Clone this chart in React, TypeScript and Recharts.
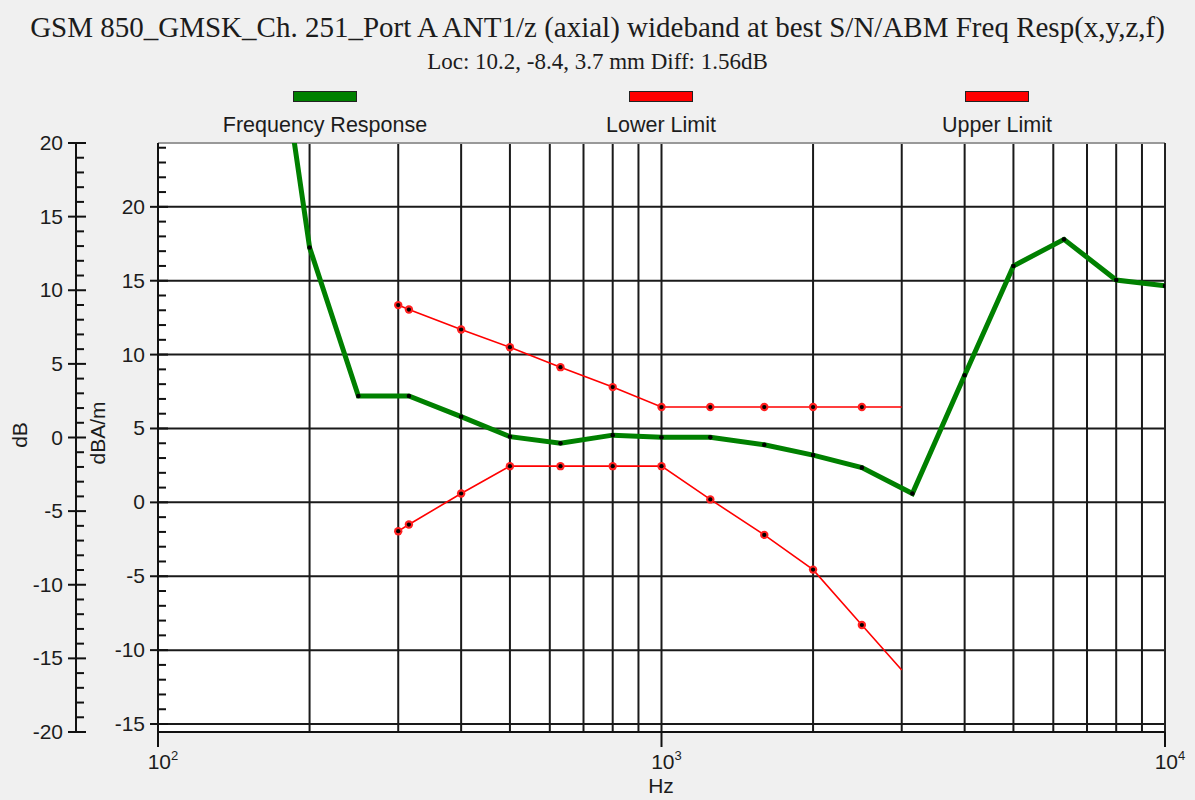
import React from 'react';
import { ComposedChart, Line, XAxis, YAxis, CartesianGrid, ReferenceLine } from 'recharts';

// frequency response (dBA/m) at 1/3 octave points
const responseFreqs = [160, 200, 250, 315, 400, 500, 630, 800, 1000, 1250, 1600, 2000, 2500, 3150, 4000, 5000, 6300, 8000, 10000];
const responseValues = [40, 17.25, 7.2, 7.2, 5.8, 4.45, 4.0, 4.55, 4.4, 4.4, 3.9, 3.2, 2.35, 0.6, 8.6, 16.0, 17.8, 15.05, 14.65];

const limitFreqs = [300, 315, 400, 500, 630, 800, 1000, 1250, 1600, 2000, 2500, 3000];
const lowerValues = [-1.95, -1.5, 0.6, 2.45, 2.45, 2.45, 2.45, 0.2, -2.2, -4.55, -8.3, -11.35];
const upperValues = [13.35, 13.05, 11.7, 10.5, 9.15, 7.8, 6.45, 6.45, 6.45, 6.45, 6.45, 6.45];

const gridFreqs = [200, 300, 400, 500, 600, 700, 800, 900, 1000, 2000, 3000, 4000, 5000, 6000, 7000, 8000, 9000];
const gridLevels = [-15, -10, -5, 0, 5, 10, 15, 20];
const xTicks = [100, 1000, 10000];
const xTickExp = ['2', '3', '4'];
const innerTicks = Array.from({ length: 40 }, (_, i) => i - 15); // -15..24
const outerTicks = Array.from({ length: 41 }, (_, i) => i - 20); // -20..20

const INNER_MIN = -15.54;
const INNER_MAX = 24.32;

const responseData = responseFreqs.map((f, i) => ({ f, v: responseValues[i] }));
const lowerData = limitFreqs.map((f, i) => ({ f, v: lowerValues[i] }));
const upperData = limitFreqs.map((f, i) => ({ f, v: upperValues[i] }));

const FONT = '"Liberation Sans", Arial, sans-serif';
const SERIF = '"Liberation Serif", "Times New Roman", serif';
const INK = '#1c1c1c';

const YTick = (props: any) => {
  const { x, y, payload } = props;
  const v = payload.value;
  const major = v % 5 === 0;
  return (
    <g>
      {major ? (
        <line x1={x - 8} x2={x + 10} y1={y} y2={y} stroke="#111" strokeWidth={2} />
      ) : (
        <line x1={x} x2={x + 8} y1={y} y2={y} stroke="#111" strokeWidth={2} />
      )}
      {major && (
        <text x={x - 13} y={y} dy={7} textAnchor="end" fontFamily={FONT} fontSize={21} fill={INK}>
          {v}
        </text>
      )}
    </g>
  );
};

const XTick = (props: any) => {
  const { x, y, payload } = props;
  const idx = xTicks.indexOf(payload.value);
  return (
    <g>
      <line x1={x} x2={x} y1={y} y2={y + 15} stroke="#111" strokeWidth={2} />
      <text x={x + 13} y={y + 37} textAnchor="end" fontFamily={FONT} fontSize={21} fill={INK}>
        10
      </text>
      <text x={x + 13} y={y + 28} textAnchor="start" fontFamily={FONT} fontSize={13} fill={INK}>
        {xTickExp[idx]}
      </text>
    </g>
  );
};

const respDot = (props: any) => {
  const { cx, cy, index } = props;
  return <circle key={`r${index}`} cx={cx} cy={cy} r={2.3} fill="#000" />;
};

const limitDot = (props: any) => {
  const { cx, cy, index, payload } = props;
  if (payload.f === 3000) return <g key={`l${index}`} />;
  return (
    <g key={`l${index}`}>
      <circle cx={cx} cy={cy} r={4.2} fill="#ff2020" />
      <circle cx={cx} cy={cy} r={2.1} fill="#000" />
    </g>
  );
};

const legendItems = [
  { name: 'Frequency Response', color: '#008000', cx: 325 },
  { name: 'Lower Limit', color: '#ff0000', cx: 661 },
  { name: 'Upper Limit', color: '#ff0000', cx: 997 },
];

const App = () => {
  return (
    <div style={{ position: 'absolute', left: 0, top: 0, width: 1195, height: 800, background: '#f0f0f0', overflow: 'hidden' }}>
      <div style={{ position: 'absolute', left: 0, width: 1195, top: 10, textAlign: 'center', fontFamily: SERIF, fontSize: 29, color: INK, lineHeight: '34px' }}>
        GSM 850_GMSK_Ch. 251_Port A ANT1/z (axial) wideband at best S/N/ABM Freq Resp(x,y,z,f)
      </div>
      <div style={{ position: 'absolute', left: 0, width: 1195, top: 48, textAlign: 'center', fontFamily: SERIF, fontSize: 23, color: INK, lineHeight: '28px' }}>
        Loc: 10.2, -8.4, 3.7 mm Diff: 1.56dB
      </div>
      {legendItems.map((it) => (
        <React.Fragment key={it.name}>
          <div style={{ position: 'absolute', left: it.cx - 32, top: 91, width: 62, height: 9, background: it.color, border: '1px solid #222' }} />
          <div style={{ position: 'absolute', left: it.cx - 150, width: 300, top: 112, textAlign: 'center', fontFamily: FONT, fontSize: 21.5, color: INK, lineHeight: '26px' }}>
            {it.name}
          </div>
        </React.Fragment>
      ))}
      <div style={{ position: 'absolute', left: 20, top: 435, transform: 'translate(-50%, -50%) rotate(-90deg)', fontFamily: FONT, fontSize: 21, color: INK, whiteSpace: 'nowrap' }}>
        dB
      </div>
      <div style={{ position: 'absolute', left: 98, top: 433, transform: 'translate(-50%, -50%) rotate(-90deg)', fontFamily: FONT, fontSize: 21, color: INK, whiteSpace: 'nowrap' }}>
        dBA/m
      </div>
      <div style={{ position: 'absolute', left: 0, width: 1322, top: 773, textAlign: 'center', fontFamily: FONT, fontSize: 21, color: INK, lineHeight: '26px' }}>
        Hz
      </div>
      <div style={{ position: 'absolute', left: 0, top: 0 }}>
        <ComposedChart width={1195} height={800} margin={{ top: 143, right: 30, bottom: 0, left: 0 }}>
          <CartesianGrid fill="#ffffff" horizontal={false} vertical={false} />
          <XAxis
            dataKey="f"
            type="number"
            scale="log"
            domain={[100, 10000]}
            ticks={xTicks}
            interval={0}
            allowDataOverflow
            height={68}
            tickSize={0}
            tickMargin={0}
            tick={<XTick />}
            axisLine={{ stroke: '#111', strokeWidth: 2 }}
          />
          <YAxis
            yAxisId="inner"
            type="number"
            domain={[INNER_MIN, INNER_MAX]}
            ticks={innerTicks}
            interval={0}
            allowDataOverflow
            width={82}
            tickSize={0}
            tickMargin={0}
            tick={<YTick />}
            axisLine={{ stroke: '#111', strokeWidth: 2 }}
          />
          <YAxis
            yAxisId="outer"
            type="number"
            domain={[-20, 20]}
            ticks={outerTicks}
            interval={0}
            allowDataOverflow
            width={76}
            tickSize={0}
            tickMargin={0}
            tick={<YTick />}
            axisLine={{ stroke: '#111', strokeWidth: 2 }}
          />
          {gridFreqs.map((f) => (
            <ReferenceLine key={`gx${f}`} x={f} yAxisId="inner" stroke="#1a1a1a" strokeWidth={2} />
          ))}
          {gridLevels.map((v) => (
            <ReferenceLine key={`gy${v}`} y={v} yAxisId="inner" stroke="#1a1a1a" strokeWidth={2} />
          ))}
          <ReferenceLine y={INNER_MAX} yAxisId="inner" stroke="#999" strokeWidth={2} />
          <ReferenceLine x={10000} yAxisId="inner" stroke="#222" strokeWidth={2} />
          <Line
            data={lowerData}
            dataKey="v"
            yAxisId="inner"
            type="linear"
            stroke="#ff0000"
            strokeWidth={1.6}
            dot={limitDot}
            activeDot={false}
            isAnimationActive={false}
          />
          <Line
            data={upperData}
            dataKey="v"
            yAxisId="inner"
            type="linear"
            stroke="#ff0000"
            strokeWidth={1.6}
            dot={limitDot}
            activeDot={false}
            isAnimationActive={false}
          />
          <Line
            data={responseData}
            dataKey="v"
            yAxisId="inner"
            type="linear"
            stroke="#008000"
            strokeWidth={5}
            dot={respDot}
            activeDot={false}
            isAnimationActive={false}
          />
        </ComposedChart>
      </div>
    </div>
  );
};

export default App;
